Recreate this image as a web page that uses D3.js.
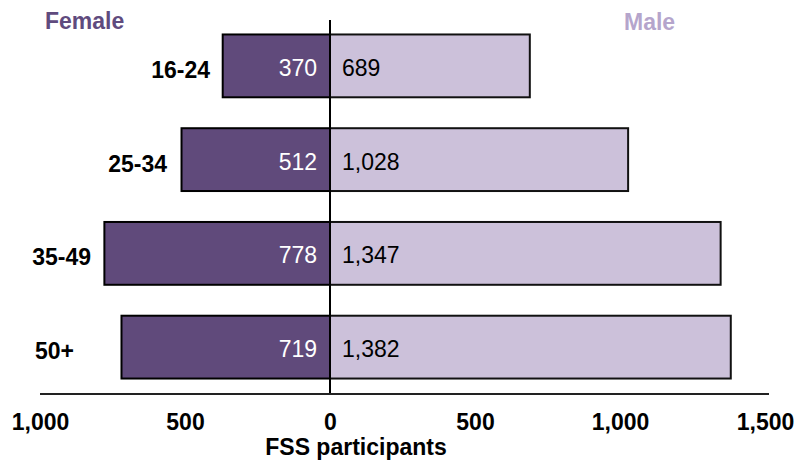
<!DOCTYPE html>
<html>
<head>
<meta charset="utf-8">
<script src="https://cdn.jsdelivr.net/npm/d3@7"></script>
<style>
	body { margin: 0; background: #fff; }
	svg { font-family: Arial, "Liberation Sans", sans-serif; }
</style>
</head>
<body>
<div id="chart"></div>
<script>
// age groups, top to bottom
var ageGroups = ["16-24", "25-34", "35-49", "50+"];
var femaleValues = [370, 512, 778, 719];
var maleValues = [689, 1028, 1347, 1382];
var tickValues = [-1000, -500, 0, 500, 1000, 1500];
var axisTitle = "FSS participants";

// where the age labels end (the source placed them by hand)
var labelEnd = { "16-24": 210, "25-34": 167, "35-49": 91, "50+": 74 };

var width = 796, height = 460;
var femaleColour = "#604a7b", maleColour = "#ccc1da";

var svg = d3.select("#chart").append("svg")
	.attr("width", width)
	.attr("height", height);

var x = d3.scaleLinear().domain([-1000, 1500]).range([40, 765]);
var y = d3.scaleBand().domain(ageGroups).range([19, 394])
	.paddingInner(0.33).paddingOuter(0.165);

var fmt = d3.format(",");

var rows = ageGroups.map(function(g, i) {
	return { group: g, female: femaleValues[i], male: maleValues[i] };
});

// female bars go left of zero
svg.selectAll("rect.female").data(rows).enter().append("rect")
	.attr("class", "female")
	.attr("x", function(d) { return x(-d.female); })
	.attr("y", function(d) { return y(d.group); })
	.attr("width", function(d) { return x(0) - x(-d.female); })
	.attr("height", y.bandwidth())
	.attr("fill", femaleColour)
	.attr("stroke", "#000")
	.attr("stroke-width", 2);

svg.selectAll("rect.male").data(rows).enter().append("rect")
	.attr("class", "male")
	.attr("x", x(0))
	.attr("y", function(d) { return y(d.group); })
	.attr("width", function(d) { return x(d.male) - x(0); })
	.attr("height", y.bandwidth())
	.attr("fill", maleColour)
	.attr("stroke", "#111")
	.attr("stroke-width", 2);

// value labels
svg.selectAll("text.fval").data(rows).enter().append("text")
	.attr("x", x(0) - 13)
	.attr("y", function(d) { return y(d.group) + y.bandwidth() / 2 + 10; })
	.attr("text-anchor", "end")
	.attr("font-size", 23)
	.attr("fill", "#fff")
	.text(function(d) { return fmt(d.female); });

svg.selectAll("text.mval").data(rows).enter().append("text")
	.attr("x", x(0) + 12)
	.attr("y", function(d) { return y(d.group) + y.bandwidth() / 2 + 10; })
	.attr("font-size", 23)
	.attr("fill", "#000")
	.text(function(d) { return fmt(d.male); });

// age group labels
svg.selectAll("text.age").data(rows).enter().append("text")
	.attr("x", function(d) { return labelEnd[d.group]; })
	.attr("y", function(d) { return y(d.group) + y.bandwidth() / 2 + 12; })
	.attr("text-anchor", "end")
	.attr("font-size", 23)
	.attr("font-weight", "bold")
	.attr("fill", "#000")
	.text(function(d) { return d.group; });

// zero line
svg.append("line")
	.attr("x1", x(0)).attr("x2", x(0))
	.attr("y1", 20).attr("y2", 394)
	.attr("stroke", "#000")
	.attr("stroke-width", 2);

// x axis
var axis = d3.axisBottom(x)
	.tickValues(tickValues)
	.tickSize(0)
	.tickPadding(20)
	.tickFormat(function(d) { return fmt(Math.abs(d)); });

var gAxis = svg.append("g")
	.attr("transform", "translate(0,394)")
	.call(axis);
gAxis.select(".domain").attr("stroke", "#222").attr("stroke-width", 2)
	.attr("d", "M" + x(-1000) + ",0H" + (x(1500) + 4));
gAxis.selectAll("text")
	.attr("font-size", 23)
	.attr("font-weight", "bold")
	.attr("font-family", "Arial, 'Liberation Sans', sans-serif")
	.attr("fill", "#000");

svg.append("text")
	.attr("x", 356)
	.attr("y", 455)
	.attr("text-anchor", "middle")
	.attr("font-size", 23)
	.attr("font-weight", "bold")
	.text(axisTitle);

// series legend
svg.append("text")
	.attr("x", 45).attr("y", 29)
	.attr("font-size", 23)
	.attr("font-weight", "bold")
	.attr("fill", "#5f4b7e")
	.text("Female");
svg.append("text")
	.attr("x", 624).attr("y", 30)
	.attr("font-size", 23)
	.attr("font-weight", "bold")
	.attr("fill", "#b5a5cc")
	.text("Male");
</script>
</body>
</html>
